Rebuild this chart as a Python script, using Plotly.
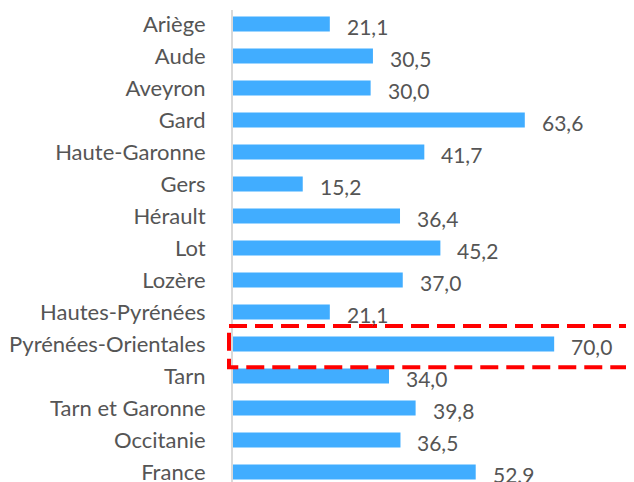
import plotly.graph_objects as go

categories = ["Ariège", "Aude", "Aveyron", "Gard", "Haute-Garonne", "Gers", "Hérault",
              "Lot", "Lozère", "Hautes-Pyrénées", "Pyrénées-Orientales", "Tarn",
              "Tarn et Garonne", "Occitanie", "France"]
values = [21.1, 30.5, 30.0, 63.6, 41.7, 15.2, 36.4, 45.2, 37.0, 21.1, 70.0, 34.0, 39.8, 36.5, 52.9]
highlight = "Pyrénées-Orientales"

FONT = "Lato, 'Open Sans', sans-serif"
TXT = "#555555"

# page is rendered with an 8px body margin, so figure is sized/offset accordingly
OFF = 8
W, H = 634 - OFF, 482 - OFF
L, T = 233 - OFF, 10 - OFF
Y_RANGE = [14.3125, -0.4375]

fig = go.Figure()
fig.add_trace(go.Bar(
    y=list(range(len(categories))), x=values, orientation="h",
    marker=dict(color="#41ADFF", line=dict(width=0)),
    width=0.47, hoverinfo="skip",
))

for i, v in enumerate(values):
    fig.add_annotation(x=v, y=i, xref="x", yref="y", text=f"{v:.1f}".replace(".", ","),
                       showarrow=False, xanchor="left", yanchor="middle", xshift=15, yshift=-2,
                       font=dict(family=FONT, size=21, color=TXT))


def ypaper(v):
    return (Y_RANGE[0] - v) / (Y_RANGE[0] - Y_RANGE[1])


hi = categories.index(highlight)
pw = W - L
fig.add_shape(type="rect", xref="paper", yref="paper",
              x0=(229 - 233) / pw, x1=(629 - 233) / pw,
              y0=ypaper(hi - 0.56), y1=ypaper(hi + 0.73),
              line=dict(color="#FF0000", width=4, dash="18px,8px"), fillcolor="rgba(0,0,0,0)",
              layer="above")

fig.update_layout(
    width=W, height=H,
    margin=dict(l=L, r=0, t=T, b=0, autoexpand=False),
    plot_bgcolor="white", paper_bgcolor="white",
    showlegend=False,
    xaxis=dict(range=[0, 87.4], showgrid=False, showticklabels=False, zeroline=False,
               showline=False, fixedrange=True, automargin=False),
    yaxis=dict(range=Y_RANGE, tickmode="array", tickvals=list(range(len(categories))),
               ticktext=categories, showgrid=False, zeroline=False, automargin=False,
               showline=True, linecolor="#D9D9D9", linewidth=2, ticks="",
               ticklabelstandoff=21, ticklabeloverflow="allow",
               tickfont=dict(family=FONT, size=22, color=TXT)),
)

fig.write_html("out.html", post_script="document.body.style.overflow='hidden';")
